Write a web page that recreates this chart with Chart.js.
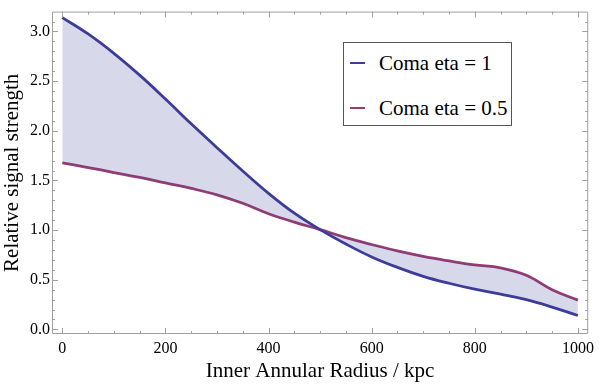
<!DOCTYPE html>
<html>
<head>
<meta charset="utf-8">
<script src="https://cdn.jsdelivr.net/npm/chart.js@4/dist/chart.umd.min.js"></script>
<style>
  html, body { margin: 0; padding: 0; background: #fff; }
  #wrap { position: relative; width: 599px; height: 385px; }
  #legend {
    position: absolute; left: 343px; top: 42px; width: 167px; height: 82px;
    border: 1px solid #555; background: #fff;
    font-family: "Liberation Serif", "Times New Roman", serif; font-size: 21px; color: #000;
  }
  .row { position: absolute; left: 0; height: 24px; line-height: 24px; }
  .swatch { position: absolute; left: 6px; top: 11px; width: 15px; height: 2px; }
  .txt { position: absolute; left: 35px; top: 0; white-space: nowrap; }
</style>
</head>
<body>
<div id="wrap">
  <canvas id="chart" width="599" height="385"></canvas>
  <div id="legend"></div>
</div>
<script>
// radius (kpc) and relative signal strength
const RADIUS = [0, 50, 100, 150, 200, 250, 300, 350, 400, 450, 500,
                550, 600, 650, 700, 750, 800, 850, 900, 950, 1000];
const ETA_1 = [3.14, 2.975, 2.78, 2.56, 2.32, 2.07, 1.83, 1.595, 1.37, 1.17, 1.005,
               0.86, 0.73, 0.625, 0.535, 0.465, 0.405, 0.355, 0.30, 0.225, 0.14];
const ETA_05 = [1.676, 1.63, 1.58, 1.53, 1.475, 1.42, 1.355, 1.27, 1.165, 1.08, 1.005,
                0.925, 0.855, 0.79, 0.735, 0.69, 0.65, 0.62, 0.545, 0.40, 0.295];
const X_TICKS = [0, 200, 400, 600, 800, 1000];
const Y_TICKS = [0, 0.5, 1.0, 1.5, 2.0, 2.5, 3.0];
const SERIES_NAMES = ['Coma eta = 1', 'Coma eta = 0.5'];

const BLUE = '#3d3d99';
const PURPLE = '#993d71';
const SERIF = '"Liberation Serif", "Times New Roman", serif';

function toPoints(vals) {
  return vals.map((v, i) => ({ x: RADIUS[i], y: v }));
}

// Mathematica style box frame with inward ticks on all sides
const framePlugin = {
  id: 'frame',
  afterDraw(chart) {
    const { ctx, chartArea: a, scales } = chart;
    const xs = scales.x, ys = scales.y;
    ctx.save();
    ctx.strokeStyle = '#a0a0a0';
    ctx.lineWidth = 1;
    ctx.beginPath();
    ctx.rect(a.left + 0.5, a.top + 0.5, a.right - a.left - 1, a.bottom - a.top - 1);
    ctx.stroke();
    ctx.beginPath();
    for (let v = 0; v <= 1000; v += 50) {
      const px = Math.round(xs.getPixelForValue(v)) + 0.5;
      const len = v % 200 === 0 ? 6 : 3;
      ctx.moveTo(px, a.bottom); ctx.lineTo(px, a.bottom - len);
      ctx.moveTo(px, a.top); ctx.lineTo(px, a.top + len);
    }
    for (let k = 0; k <= 31; k++) {
      const v = k / 10;
      const py = Math.round(ys.getPixelForValue(v)) + 0.5;
      const len = k % 5 === 0 ? 6 : 3;
      ctx.moveTo(a.left, py); ctx.lineTo(a.left + len, py);
      ctx.moveTo(a.right, py); ctx.lineTo(a.right - len, py);
    }
    ctx.stroke();
    ctx.restore();
  }
};

new Chart(document.getElementById('chart'), {
  type: 'line',
  data: {
    datasets: [
      {
        label: SERIES_NAMES[0],
        data: toPoints(ETA_1),
        borderColor: BLUE,
        borderWidth: 2.8,
        backgroundColor: 'rgba(61, 61, 153, 0.2)',
        fill: '+1',
        pointRadius: 0,
        tension: 0.4
      },
      {
        label: SERIES_NAMES[1],
        data: toPoints(ETA_05),
        borderColor: PURPLE,
        borderWidth: 2.8,
        fill: false,
        pointRadius: 0,
        tension: 0.4
      }
    ]
  },
  options: {
    responsive: false,
    animation: false,
    layout: { padding: { top: 0, right: 6, left: 0, bottom: 0 } },
    plugins: {
      legend: { display: false },
      tooltip: { enabled: false }
    },
    scales: {
      x: {
        type: 'linear',
        min: -20,
        max: 1020,
        afterBuildTicks: s => { s.ticks = X_TICKS.map(v => ({ value: v })); },
        afterFit: s => { s.height = 51; },
        grid: { display: false, drawTicks: false },
        border: { display: false },
        ticks: {
          autoSkip: false, maxRotation: 0, padding: 5, color: '#000',
          font: { family: SERIF, size: 16 },
          callback: v => String(v)
        },
        title: {
          display: true, text: 'Inner Annular Radius / kpc', color: '#000',
          font: { family: SERIF, size: 21 },
          padding: { top: 0, bottom: 1 }
        }
      },
      y: {
        min: -0.046,
        max: 3.2,
        afterBuildTicks: s => { s.ticks = Y_TICKS.map(v => ({ value: v })); },
        afterFit: s => { s.width = 52; },
        grid: { display: false, drawTicks: false },
        border: { display: false },
        ticks: {
          autoSkip: false, padding: 2, color: '#000',
          font: { family: SERIF, size: 16 },
          callback: v => Number(v).toFixed(1)
        },
        title: {
          display: true, text: 'Relative signal strength', color: '#000',
          font: { family: SERIF, size: 21 },
          padding: { top: 0, bottom: 0 }
        }
      }
    }
  },
  plugins: [framePlugin]
});

// legend box drawn as html inside the plot
const legend = document.getElementById('legend');
[[SERIES_NAMES[0], BLUE, 8], [SERIES_NAMES[1], PURPLE, 53]].forEach(([name, col, top]) => {
  const row = document.createElement('div');
  row.className = 'row';
  row.style.top = top + 'px';
  row.style.width = '100%';
  row.innerHTML = '<span class="swatch" style="background:' + col + '"></span><span class="txt">' + name + '</span>';
  legend.appendChild(row);
});
</script>
</body>
</html>
